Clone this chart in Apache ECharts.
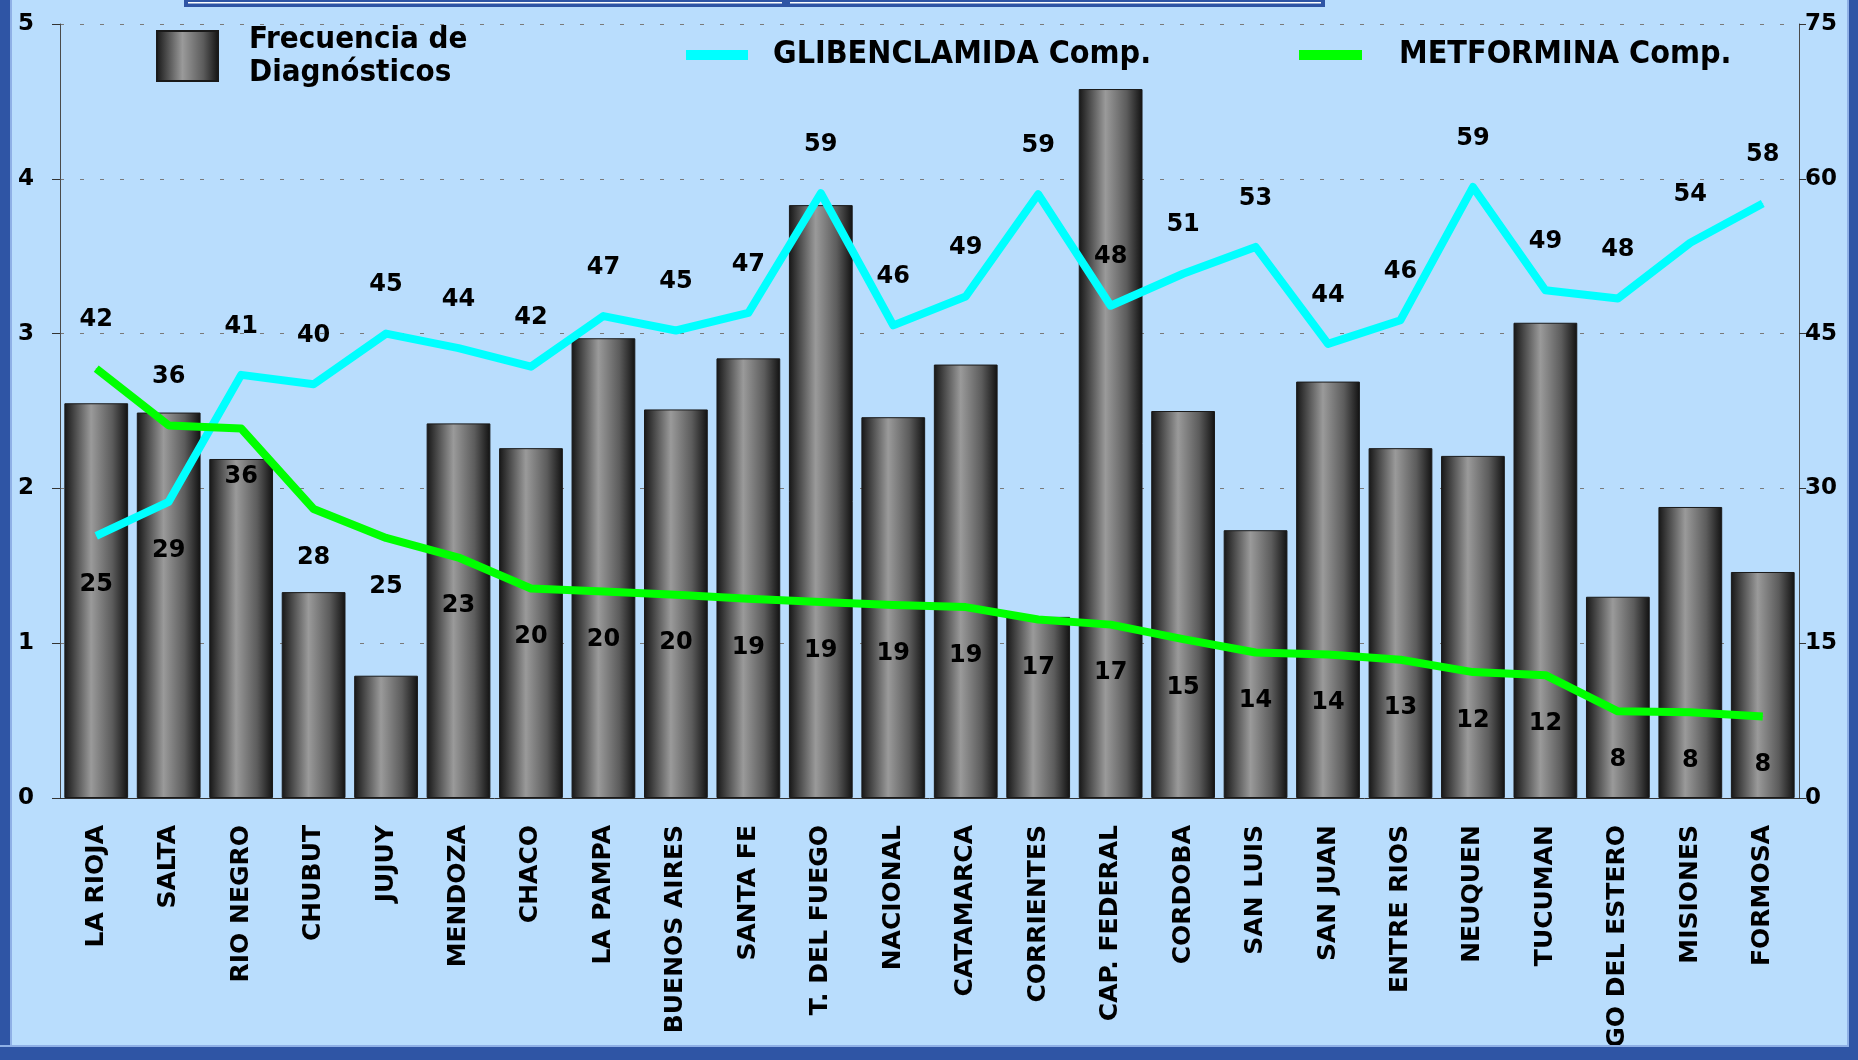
<!DOCTYPE html>
<html>
<head>
<meta charset="utf-8">
<title>Frecuencia de Diagnósticos</title>
<script src="https://cdn.jsdelivr.net/npm/echarts/dist/echarts.min.js"></script>
<style>
html, body { margin: 0; padding: 0; background: #b9ddfd; }
#chart { width: 1858px; height: 1060px; }
</style>
</head>
<body>
<div id="chart"></div>
<script>
//provincias
var provincias = ['LA RIOJA', 'SALTA', 'RIO NEGRO', 'CHUBUT', 'JUJUY', 'MENDOZA', 'CHACO', 'LA PAMPA',
    'BUENOS AIRES', 'SANTA FE', 'T. DEL FUEGO', 'NACIONAL', 'CATAMARCA', 'CORRIENTES', 'CAP. FEDERAL',
    'CORDOBA', 'SAN LUIS', 'SAN JUAN', 'ENTRE RIOS', 'NEUQUEN', 'TUCUMAN', 'SGO DEL ESTERO', 'MISIONES', 'FORMOSA'];

//frecuencia de diagnosticos (eje izquierdo)
var frecuencia = [2.55, 2.49, 2.19, 1.33, 0.79, 2.42, 2.26, 2.97, 2.51, 2.84, 3.83, 2.46,
    2.80, 1.17, 4.58, 2.50, 1.73, 2.69, 2.26, 2.21, 3.07, 1.30, 1.88, 1.46];

//comprimidos (eje derecho)
var glibenclamida = [25.4, 28.7, 41, 40.1, 45, 43.6, 41.8, 46.7, 45.3, 47, 58.6, 45.8,
    48.6, 58.5, 47.7, 50.8, 53.4, 44, 46.3, 59.2, 49.2, 48.4, 53.8, 57.6];
var metformina = [41.6, 36.1, 35.8, 28, 25.2, 23.3, 20.3, 20, 19.7, 19.3, 19, 18.7,
    18.5, 17.3, 16.8, 15.4, 14.1, 13.9, 13.4, 12.2, 11.9, 8.4, 8.3, 7.9];

//ticks
var ticksIzq = [0, 1, 2, 3, 4, 5];
var ticksDer = [0, 15, 30, 45, 60, 75];

var fuente = 'DejaVu Sans';
var fuenteLeyenda = 'DejaVu Sans Condensed';
var azulMarco = '#2f55a5';

//label on the side away from the other line
function datosLinea(values, other) {
    var out = [];
    for (var i = 0; i < values.length; i++) {
        out.push({
            value: values[i],
            label: { position: values[i] >= other[i] ? 'top' : 'bottom' }
        });
    }
    return out;
}

var barColor = new echarts.graphic.LinearGradient(0, 0, 1, 0, [
    { offset: 0, color: '#161616' },
    { offset: 0.42, color: '#9a9a9a' },
    { offset: 0.75, color: '#5c5c5c' },
    { offset: 1, color: '#111111' }
]);

var lineLabel = {
    show: true,
    distance: 36,
    color: '#000',
    fontFamily: fuente,
    fontWeight: 'bold',
    fontSize: 24,
    formatter: function (p) { return Math.round(p.value); }
};

var myChart = echarts.init(document.getElementById('chart'));

var option = {
    backgroundColor: '#b9ddfd',
    animation: false,
    grid: { left: 60, right: 59, top: 24, bottom: 262, outerBoundsMode: 'none', containLabel: false },
    legend: [{
        data: ['Frecuencia de Diagnósticos'],
        left: 151, top: 18,
        icon: 'rect', itemWidth: 61, itemHeight: 50,
        formatter: function () { return 'Frecuencia de\nDiagnósticos'; },
        textStyle: { fontFamily: fuenteLeyenda, fontWeight: 'bold', fontSize: 31, lineHeight: 33, color: '#000', padding: [0, 0, 0, 26] }
    }, {
        data: ['GLIBENCLAMIDA Comp.'],
        left: 681, top: 34,
        icon: 'rect', itemWidth: 62, itemHeight: 10,
        textStyle: { fontFamily: fuenteLeyenda, fontWeight: 'bold', fontSize: 32, lineHeight: 32, color: '#000', padding: [0, 0, 0, 20] }
    }, {
        data: ['METFORMINA Comp.'],
        left: 1294, top: 34,
        icon: 'rect', itemWidth: 63, itemHeight: 10,
        textStyle: { fontFamily: fuenteLeyenda, fontWeight: 'bold', fontSize: 32, lineHeight: 32, color: '#000', padding: [0, 0, 0, 32] }
    }],
    xAxis: {
        type: 'category',
        data: provincias,
        axisLine: { lineStyle: { color: '#333', width: 1 } },
        axisTick: { length: 9, lineStyle: { color: '#333' } },
        axisLabel: {
            rotate: 90,
            interval: 0,
            margin: 27,
            color: '#000',
            fontFamily: fuente,
            fontWeight: 'bold',
            fontSize: 25
        }
    },
    yAxis: [{
        type: 'value',
        min: ticksIzq[0], max: ticksIzq[ticksIzq.length - 1], interval: ticksIzq[1] - ticksIzq[0],
        axisLine: { show: true, lineStyle: { color: '#4a4a4a' } },
        axisTick: { show: true, length: 8, lineStyle: { color: '#333' } },
        axisLabel: { margin: 26, color: '#000', fontFamily: fuente, fontWeight: 'bold', fontSize: 23 },
        splitLine: { lineStyle: { color: '#7a7a7a', type: [4, 16], width: 1 } }
    }, {
        type: 'value',
        position: 'right',
        min: ticksDer[0], max: ticksDer[ticksDer.length - 1], interval: ticksDer[1] - ticksDer[0],
        axisLine: { show: true, lineStyle: { color: '#4a4a4a' } },
        axisTick: { show: true, length: 7, lineStyle: { color: '#333' } },
        axisLabel: { margin: 6, color: '#000', fontFamily: fuente, fontWeight: 'bold', fontSize: 23 },
        splitLine: { show: false }
    }],
    series: [{
        name: 'Frecuencia de Diagnósticos',
        type: 'bar',
        yAxisIndex: 0,
        barCategoryGap: '12%',
        itemStyle: { color: barColor, borderColor: '#1a1a1a', borderWidth: 1 },
        data: frecuencia
    }, {
        name: 'GLIBENCLAMIDA Comp.',
        type: 'line',
        yAxisIndex: 1,
        color: '#00ffff',
        symbol: 'circle',
        symbolSize: 1,
        lineStyle: { color: '#00ffff', width: 8, join: 'round' },
        itemStyle: { color: '#00ffff' },
        label: lineLabel,
        data: datosLinea(glibenclamida, metformina),
        z: 3
    }, {
        name: 'METFORMINA Comp.',
        type: 'line',
        yAxisIndex: 1,
        color: '#00ff00',
        symbol: 'circle',
        symbolSize: 1,
        lineStyle: { color: '#00ff00', width: 8, join: 'round' },
        itemStyle: { color: '#00ff00' },
        label: lineLabel,
        data: datosLinea(metformina, glibenclamida),
        z: 3
    }],
    //marco azul
    graphic: [
        { type: 'rect', z: 100, shape: { x: 0, y: 0, width: 10, height: 1060 }, style: { fill: azulMarco } },
        { type: 'rect', z: 100, shape: { x: 10, y: 0, width: 2, height: 1060 }, style: { fill: '#8fb0e6' } },
        { type: 'rect', z: 100, shape: { x: 0, y: 1047, width: 1858, height: 13 }, style: { fill: azulMarco } },
        { type: 'rect', z: 100, shape: { x: 0, y: 1045, width: 1858, height: 2 }, style: { fill: '#8fb0e6' } },
        { type: 'rect', z: 100, shape: { x: 1849, y: 0, width: 9, height: 1060 }, style: { fill: azulMarco } },
        { type: 'rect', z: 100, shape: { x: 1847, y: 0, width: 2, height: 1047 }, style: { fill: '#8fb0e6' } },
        { type: 'rect', z: 100, shape: { x: 184, y: 0, width: 1141, height: 7 }, style: { fill: azulMarco } },
        { type: 'rect', z: 101, shape: { x: 188, y: 2, width: 594, height: 1.5 }, style: { fill: '#ffffff' } },
        { type: 'rect', z: 101, shape: { x: 790, y: 2, width: 531, height: 1.5 }, style: { fill: '#ffffff' } }
    ]
};

myChart.setOption(option);
</script>
</body>
</html>
